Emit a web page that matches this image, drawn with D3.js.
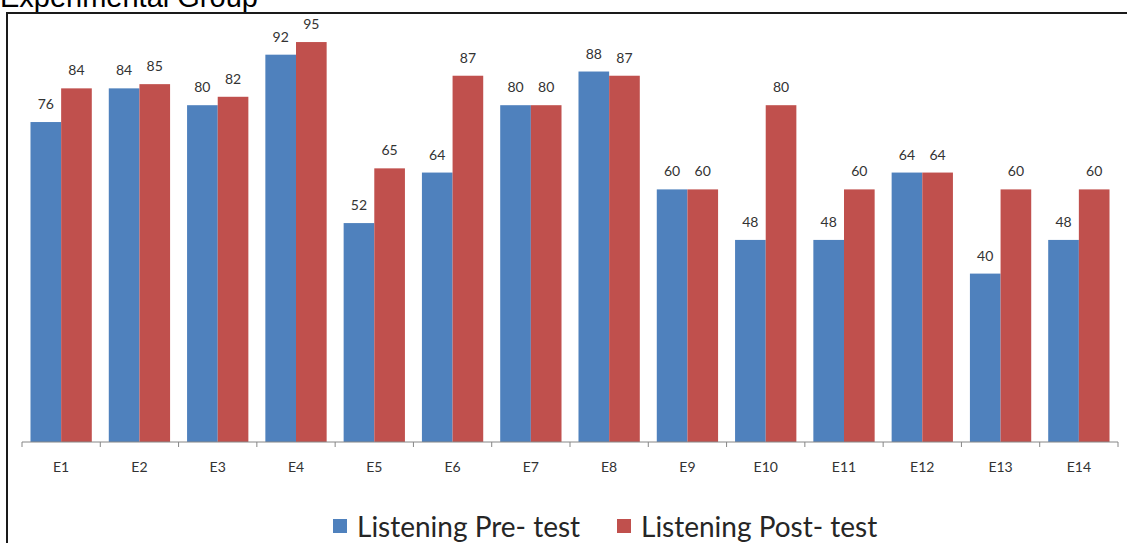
<!DOCTYPE html>
<html>
<head>
<meta charset="utf-8">
<script src="https://cdn.jsdelivr.net/npm/d3@7"></script>
<style>
  html, body { margin: 0; padding: 0; background: #fff; overflow: hidden; }
  svg { display: block; }
</style>
</head>
<body>
<script>
const categories = ["E1","E2","E3","E4","E5","E6","E7","E8","E9","E10","E11","E12","E13","E14"];
const preTest  = [76, 84, 80, 92, 52, 64, 80, 88, 60, 48, 48, 64, 40, 48];
const postTest = [84, 85, 82, 95, 65, 87, 80, 87, 60, 80, 60, 64, 60, 60];
const seriesNames = ["Listening Pre- test", "Listening Post- test"];
const seriesColors = ["#4F81BD", "#C0504D"];
const titleText = "Experimental Group";

const W = 1127, H = 543;
const svg = d3.select("body").append("svg").attr("width", W).attr("height", H);
svg.append("rect").attr("width", W).attr("height", H).attr("fill", "#fff");

// title (partly cut off at top, as in the source image)
svg.append("text").attr("x", 0).attr("y", 7)
  .attr("font-family", "Liberation Sans, Arial, sans-serif")
  .attr("font-size", 29).attr("fill", "#000").text(titleText);

// chart border
svg.append("rect").attr("x", 7).attr("y", 13).attr("width", W + 20).attr("height", H + 20)
  .attr("fill", "none").attr("stroke", "#1a1a1a").attr("stroke-width", 2);

const x0 = d3.scaleBand().domain(categories).range([22, 1118]).paddingInner(0.217).paddingOuter(0.1085);
const x1 = d3.scaleBand().domain([0, 1]).range([0, x0.bandwidth()]);
const y = d3.scaleLinear().domain([0, 100]).range([442, 21]);

const data = categories.map((c, i) => ({ cat: c, vals: [preTest[i], postTest[i]] }));

const groups = svg.append("g").selectAll("g").data(data).join("g")
  .attr("transform", d => `translate(${x0(d.cat)},0)`);

groups.selectAll("rect").data(d => d.vals.map((v, k) => ({ v, k }))).join("rect")
  .attr("x", d => x1(d.k)).attr("y", d => y(d.v))
  .attr("width", x1.bandwidth()).attr("height", d => y(0) - y(d.v))
  .attr("fill", d => seriesColors[d.k]);

groups.selectAll("text").data(d => d.vals.map((v, k) => ({ v, k }))).join("text")
  .attr("x", d => x1(d.k) + x1.bandwidth() / 2).attr("y", d => y(d.v) - 13)
  .attr("text-anchor", "middle")
  .attr("font-family", "Lato, Open Sans, sans-serif").attr("font-size", 14)
  .attr("fill", "#333").text(d => d.v);

// x axis
const xAxisScale = d3.scalePoint().domain(d3.range(categories.length + 1)).range([22, 1118]);
const axisG = svg.append("g");
axisG.append("line").attr("x1", 22).attr("x2", 1118).attr("y1", y(0)).attr("y2", y(0))
  .attr("stroke", "#868686").attr("stroke-width", 1);
axisG.selectAll("line.tick").data(d3.range(categories.length + 1)).join("line")
  .attr("class", "tick")
  .attr("x1", d => xAxisScale(d)).attr("x2", d => xAxisScale(d))
  .attr("y1", y(0)).attr("y2", y(0) + 5)
  .attr("stroke", "#868686");
axisG.selectAll("text").data(categories).join("text")
  .attr("x", d => x0(d) + x0.bandwidth() / 2).attr("y", 472)
  .attr("text-anchor", "middle")
  .attr("font-family", "Lato, Open Sans, sans-serif").attr("font-size", 14)
  .attr("fill", "#333").text(d => d);

// legend
const legendX = [333, 617];
const leg = svg.append("g").selectAll("g").data(seriesNames).join("g")
  .attr("transform", (d, i) => `translate(${legendX[i]},0)`);
leg.append("rect").attr("x", 0).attr("y", 519).attr("width", 14).attr("height", 14)
  .attr("fill", (d, i) => seriesColors[i]);
leg.append("text").attr("x", 24).attr("y", 537)
  .attr("font-family", "Lato, Open Sans, sans-serif").attr("font-size", 28)
  .attr("fill", "#262626").text(d => d);
</script>
</body>
</html>
